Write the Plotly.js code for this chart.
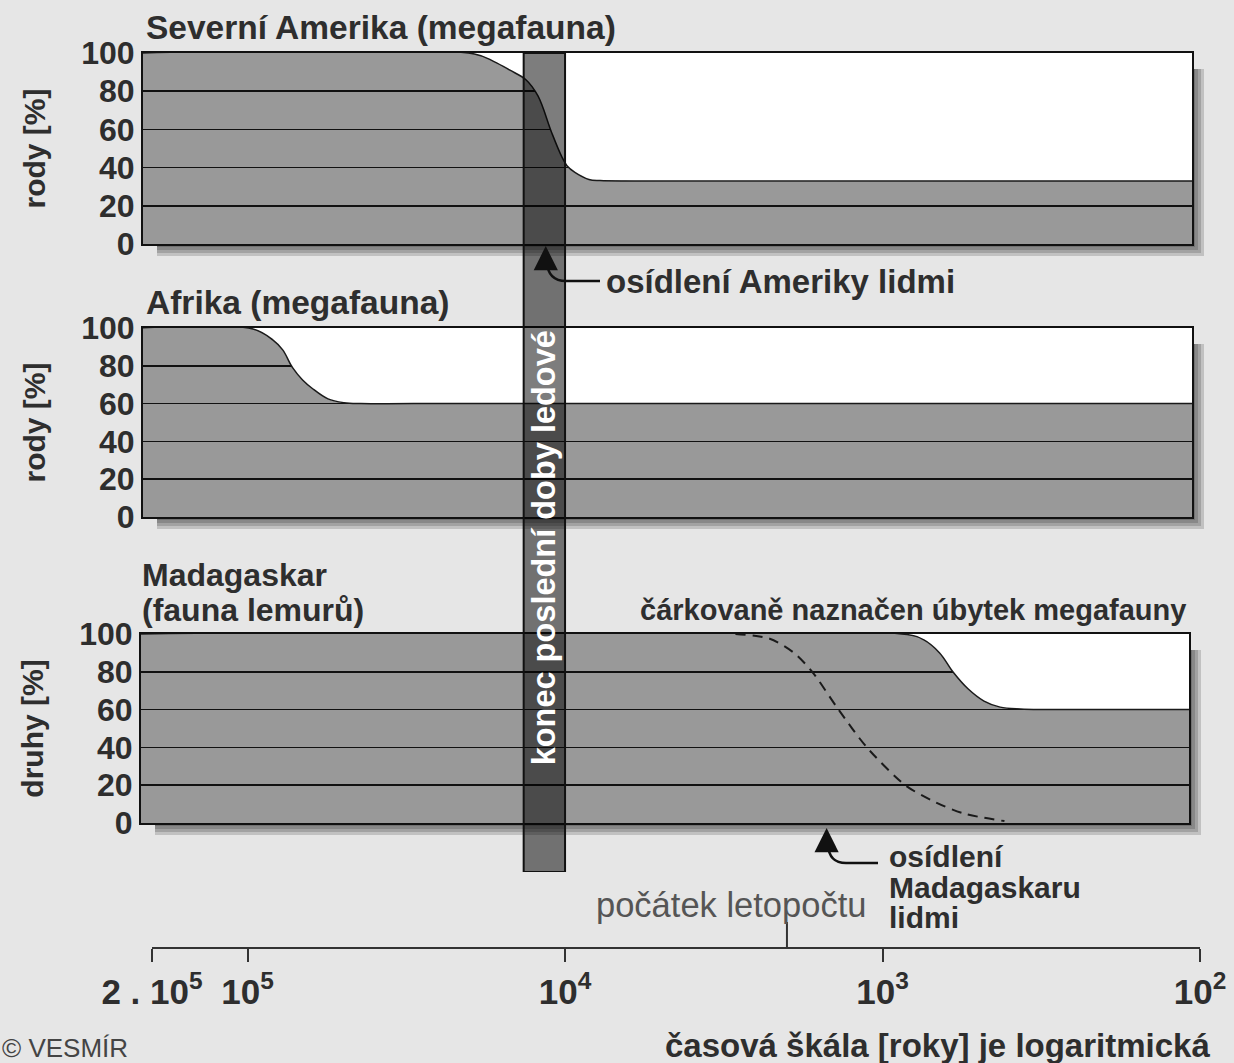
<!DOCTYPE html>
<html><head><meta charset="utf-8">
<script src="https://cdn.plot.ly/plotly-3.0.1.min.js"></script>
<style>html,body{margin:0;padding:0;background:#e6e6e6}</style>
</head><body><div id="chart" style="width:1234px;height:1063px"></div>
<script>
// ---------- data (years before present, log time scale) ----------
const naYears   = [220000, 19300, 16740, 14910, 13280, 12170, 11030, 10260, 9860, 9310, 8410, 7760, 6000, 100];
const naGenera  = [100, 99.5, 95.5, 91, 86, 77.5, 58.5, 46, 41, 37.5, 33.8, 33.2, 33, 33];

const afYears   = [220000, 96200, 83300, 77500, 72150, 67100, 62500, 55800, 49700, 44000, 30000, 100];
const afGenera  = [100, 99.5, 93.7, 88.4, 79, 72.5, 68, 62.5, 60.5, 60, 60, 60];

const mgYears   = [220000, 836, 743, 661, 597, 538, 479, 426, 368, 308, 100];
const mgSpecies = [100, 99.7, 97, 90, 79.5, 71, 64.5, 61.3, 60.3, 60, 60];

const mgMegaYears = [2906, 2266, 1901, 1665, 1376, 1120, 848, 681, 554, 413];
const mgMegaPct   = [100, 97.5, 90, 80, 60, 40, 20, 11, 5, 1];

const iceAgeEnd    = [13500, 10000];      // konec poslední doby ledové
const arrivalYears = [11500, 1500];       // osídlení Ameriky, Madagaskaru
const commonEra    = 2000;                // počátek letopočtu (years ago)

const yTicks     = [0, 20, 40, 60, 80, 100];
const timeTicks  = [2e5, 1e5, 1e4, 1e3, 1e2];
const timeLabels = ['2 . 10<sup>5</sup>', '10<sup>5</sup>', '10<sup>4</sup>', '10<sup>3</sup>', '10<sup>2</sup>'];
const Y_MAX = 100;

// ---------- layout helpers ----------
const W = 1234, H = 1063;
const fx = p => p / W;
const fy = p => 1 - p / H;
const AX_X0 = 152, AX_X1 = 1200, LOG_L = Math.log10(2e5), LOG_R = 2;
const PXDEC = (AX_X1 - AX_X0) / (LOG_L - LOG_R);
const pxToLog = p => LOG_L - (p - AX_X0) / PXDEC;
const P = (x, y) => fx(x).toFixed(5) + ',' + fy(y).toFixed(5);

const FONT = '"Liberation Sans", Arial, sans-serif';
const INK = '#2e2e2e';

const panels = [
  {x0:143, x1:1192, y0:53,  y1:244, ytitle:'rody [%]',  years:naYears, vals:naGenera},
  {x0:143, x1:1192, y0:328, y1:517, ytitle:'rody [%]',  years:afYears, vals:afGenera},
  {x0:141, x1:1189, y0:634, y1:823, ytitle:'druhy [%]', years:mgYears, vals:mgSpecies}
];

const traces = [];
const layout = {
  width: W, height: H,
  margin: {l:0, r:0, t:0, b:0},
  paper_bgcolor: '#e6e6e6',
  plot_bgcolor: 'rgba(0,0,0,0)',
  showlegend: false,
  font: {family: FONT, color: INK},
  shapes: [], annotations: []
};

// shadows first, then panel backgrounds
panels.forEach(p => {
  [12, 9, 6, 3].forEach(d => {
    layout.shapes.push({type:'rect', xref:'paper', yref:'paper', layer:'below',
      x0:fx(p.x0 + 14), x1:fx(p.x1 + d), y0:fy(p.y1 + d), y1:fy(p.y0 + 16),
      fillcolor:'rgba(0,0,0,0.16)', line:{width:0}});
  });
});
panels.forEach(p => {
  layout.shapes.push({type:'rect', xref:'paper', yref:'paper', layer:'below',
    x0:fx(p.x0), x1:fx(p.x1), y0:fy(p.y1), y1:fy(p.y0),
    fillcolor:'#999999', line:{width:0}});
});

panels.forEach((p, i) => {
  const n = i === 0 ? '' : String(i + 1);
  const xa = 'x' + n, ya = 'y' + n;
  layout['xaxis' + n] = {
    type:'log', domain:[fx(p.x0), fx(p.x1)], range:[pxToLog(p.x0), pxToLog(p.x1)],
    anchor: ya, showgrid:false, zeroline:false, showticklabels:false, ticks:'',
    showline:true, mirror:true, linecolor:'#111', linewidth:2, fixedrange:true
  };
  layout['yaxis' + n] = {
    domain:[fy(p.y1), fy(p.y0)], range:[0, Y_MAX], anchor: xa,
    tickvals: yTicks, ticks:'', showgrid:true, gridcolor:'#111', gridwidth:1.6,
    zeroline:false, showline:true, mirror:true, linecolor:'#111', linewidth:2,
    tickfont:{family:FONT, size:32, weight:'bold', color:INK}, ticklabelstandoff:0,
    title:{text:p.ytitle, font:{family:FONT, size:30, weight:'bold', color:INK}, standoff:27},
    fixedrange:true
  };
  // top boundary for the white (lost) region
  traces.push({type:'scatter', mode:'lines', xaxis:xa, yaxis:ya,
    x:[p.years[0], p.years[p.years.length - 1]], y:[Y_MAX, Y_MAX],
    line:{width:0, color:'rgba(0,0,0,0)'}, hoverinfo:'skip'});
  traces.push({type:'scatter', mode:'lines', xaxis:xa, yaxis:ya,
    x:p.years, y:p.vals, fill:'tonexty', fillcolor:'#ffffff',
    line:{color:'#1a1a1a', width:1.5, shape:'spline', smoothing:1}, hoverinfo:'skip'});
});

// megafauna decline on Madagascar (dashed)
traces.push({type:'scatter', mode:'lines', xaxis:'x3', yaxis:'y3',
  x:mgMegaYears, y:mgMegaPct,
  line:{color:'#1a1a1a', width:2, dash:'10px,7px', shape:'spline', smoothing:0.8}, hoverinfo:'skip'});

// end of the last ice age band
traces.push({type:'scatter', mode:'lines', xaxis:'x4', yaxis:'y4',
  x:[iceAgeEnd[0], iceAgeEnd[1], iceAgeEnd[1], iceAgeEnd[0], iceAgeEnd[0]],
  y:[0, 0, 1, 1, 0], fill:'toself', fillcolor:'rgba(0,0,0,0.51)',
  line:{color:'#111', width:2}, hoverinfo:'skip'});

layout.xaxis4 = {
  type:'log', domain:[fx(AX_X0), fx(AX_X1)], range:[LOG_L, LOG_R],
  anchor:'free', position: fy(948),
  showline:true, linecolor:'#333', linewidth:2,
  ticks:'outside', ticklen:13, tickwidth:2, tickcolor:'#333',
  tickmode:'array', tickvals: timeTicks, ticktext: timeLabels,
  tickfont:{family:FONT, size:35, weight:'bold', color:INK}, ticklabelstandoff:0,
  showgrid:false, zeroline:false, fixedrange:true
};
layout.yaxis4 = {domain:[fy(872), fy(53)], range:[0, 1], anchor:'x4', visible:false, fixedrange:true};

// počátek letopočtu tick (upwards)
layout.shapes.push({type:'line', xref:'x4', yref:'paper', x0:commonEra, x1:commonEra,
  y0:fy(948), y1:fy(922), line:{color:'#333', width:2}});

// curved arrow connectors
layout.shapes.push({type:'path', xref:'paper', yref:'paper',
  path:'M' + P(600, 281) + ' L' + P(566, 281) + ' Q' + P(548, 281) + ' ' + P(547, 262),
  line:{color:'#111', width:2.5}});
layout.shapes.push({type:'path', xref:'paper', yref:'paper',
  path:'M' + P(878, 863) + ' L' + P(846, 863) + ' Q' + P(829, 863) + ' ' + P(828, 845),
  line:{color:'#111', width:2.5}});

const A = layout.annotations;
const txt = (text, x, y, xanchor, size, weight, color) => A.push({
  text, xref:'paper', yref:'paper', x:fx(x), y:fy(y), xanchor, yanchor:'middle',
  showarrow:false, font:{family:FONT, size, weight, color: color || INK}
});
txt('Severní Amerika (megafauna)', 144, 27, 'left', 33.5, 'bold');
txt('Afrika (megafauna)', 144, 302, 'left', 33.5, 'bold');
txt('Madagaskar', 140, 575, 'left', 32, 'bold');
txt('(fauna lemurů)', 140, 610, 'left', 32, 'bold');
txt('čárkovaně naznačen úbytek megafauny', 1188, 610, 'right', 29, 'bold');
txt('osídlení Ameriky lidmi', 604, 281, 'left', 33, 'bold');
txt('osídlení', 887, 856, 'left', 30, 'bold');
txt('Madagaskaru', 887, 887, 'left', 30, 'bold');
txt('lidmi', 887, 917, 'left', 30, 'bold');
txt('počátek letopočtu', 731, 905, 'center', 34.5, 'normal', '#555');
txt('časová škála [roky] je logaritmická', 1212, 1045, 'right', 33, 'bold');
txt('© VESMÍR', 0, 1048, 'left', 26, 'normal', '#444');

// band label
A.push({text:'konec poslední doby ledové', xref:'x4', yref:'paper',
  x: Math.log10(Math.sqrt(iceAgeEnd[0] * iceAgeEnd[1])), y: fy(548),
  textangle:-90, showarrow:false, xanchor:'center', yanchor:'middle',
  font:{family:FONT, size:32.5, weight:'bold', color:'#ffffff'}});

// human arrival arrows
arrivalYears.forEach((yr, i) => {
  A.push({text:'', xref:'x4', yref:'paper', x: Math.log10(yr), y: fy(i === 0 ? 246 : 828),
    showarrow:true, axref:'pixel', ayref:'pixel', ax:0, ay:24,
    arrowhead:2, arrowsize:2.2, arrowwidth:2.2, arrowcolor:'#111', standoff:0});
});

Plotly.newPlot('chart', traces, layout, {displayModeBar:false, staticPlot:true});
</script>
</body></html>
